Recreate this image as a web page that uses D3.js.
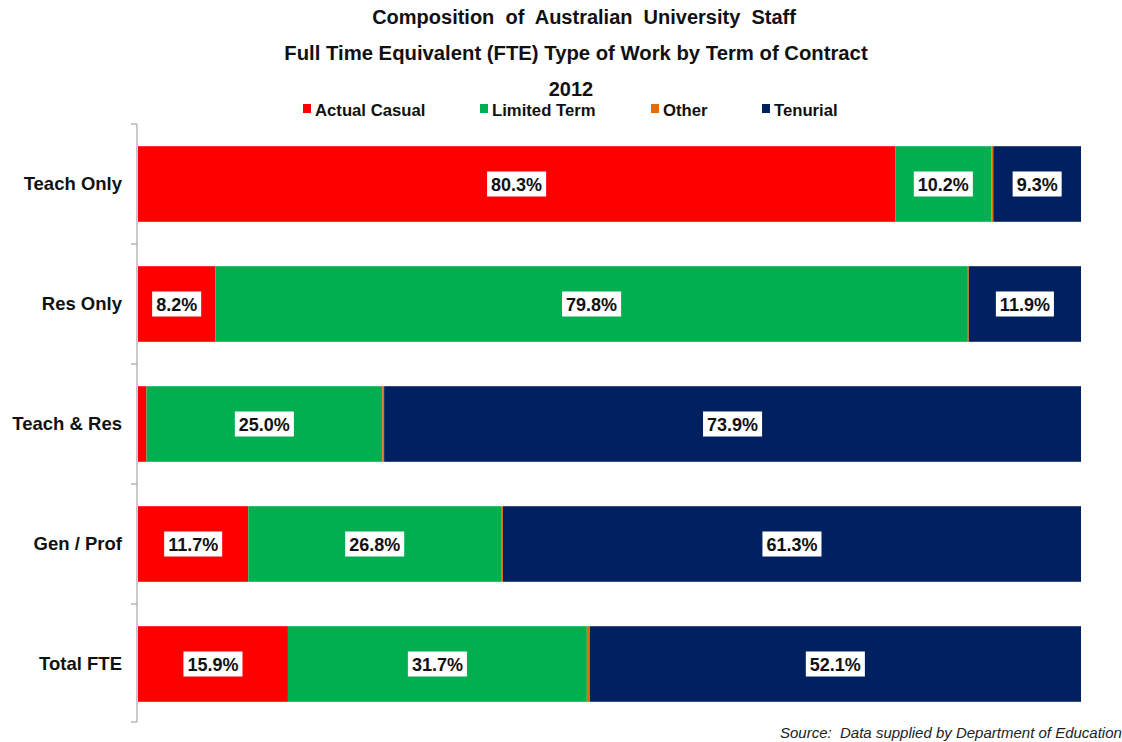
<!DOCTYPE html>
<html>
<head>
<meta charset="utf-8">
<script src="https://cdn.jsdelivr.net/npm/d3@7"></script>
<style>
  html, body { margin: 0; padding: 0; background: #fff; }
  svg { display: block; font-family: "Liberation Sans", Arial, sans-serif; }
  text { white-space: pre; }
</style>
</head>
<body>
<svg id="chart" width="1122" height="742"></svg>
<script>
const categories = ["Teach Only", "Res Only", "Teach & Res", "Gen / Prof", "Total FTE"];
const seriesNames = ["Actual Casual", "Limited Term", "Other", "Tenurial"];
const actualCasual = [80.3, 8.2, 0.9, 11.7, 15.9];
const limitedTerm = [10.2, 79.8, 25.0, 26.8, 31.7];
const other = [0.2, 0.1, 0.2, 0.2, 0.3];
const tenurial = [9.3, 11.9, 73.9, 61.3, 52.1];
const colors = ["#FF0000", "#00B050", "#E46C0A", "#002060"];
const titleLines = ["Composition  of  Australian  University  Staff",
                    "Full Time Equivalent (FTE) Type of Work by Term of Contract",
                    "2012"];
const sourceText = "Source:  Data supplied by Department of Education";

const svg = d3.select("#chart");

const x = d3.scaleLinear().domain([0, 100]).range([138, 1081]);
const y = d3.scaleBand().domain(categories).range([124, 724]).paddingInner(0.37).paddingOuter(0.185);

const seriesData = [actualCasual, limitedTerm, other, tenurial];
const rows = categories.map((c, i) => {
  const o = {cat: c};
  seriesNames.forEach((s, j) => o[s] = seriesData[j][i]);
  return o;
});
const stack = d3.stack().keys(seriesNames)(rows);

// Titles
const titleY = [24, 60, 96];
const titleX = [584, 576, 571];
const titleSize = [20, 20.3, 20];
titleLines.forEach((t, i) => {
  svg.append("text").attr("x", titleX[i]).attr("y", titleY[i])
    .attr("text-anchor", "middle").attr("font-weight", "bold")
    .attr("font-size", titleSize[i]).attr("fill", "#111").text(t);
});

// Legend
const legendX = [303, 480, 651, 762];
const lg = svg.append("g");
seriesNames.forEach((s, i) => {
  lg.append("rect").attr("x", legendX[i]).attr("y", 104).attr("width", 8).attr("height", 9).attr("fill", colors[i]);
  lg.append("text").attr("x", legendX[i] + 12).attr("y", 116)
    .attr("font-size", 16.7).attr("font-weight", "bold").attr("fill", "#111").text(s);
});

// Bars
const g = svg.append("g");
stack.forEach((layer, j) => {
  g.selectAll(null).data(layer).enter().append("rect")
    .attr("x", d => x(d[0]))
    .attr("width", d => Math.max(0, x(d[1]) - x(d[0])))
    .attr("y", d => y(d.data.cat))
    .attr("height", y.bandwidth())
    .attr("fill", colors[j]);
});

// Axis
const axis = d3.axisLeft(y).tickSize(0).tickPadding(15);
const ax = svg.append("g").attr("transform", "translate(137,0)").call(axis);
ax.select(".domain").remove();
svg.append("line").attr("x1", 137).attr("x2", 137).attr("y1", 124).attr("y2", 722)
  .attr("stroke", "#a6a6a6").attr("stroke-width", 1.2);
ax.selectAll("text").attr("font-size", 18.5).attr("font-weight", "bold").attr("fill", "#111")
  .attr("font-family", "Liberation Sans, Arial, sans-serif").attr("dy", "0.35em");
// category boundary ticks
const bounds = categories.map(c => y(c) - y.step() * y.paddingInner() / 2).concat([722]);
bounds[0] = 124;
svg.append("g").selectAll("line").data(bounds).enter().append("line")
  .attr("x1", 131).attr("x2", 137).attr("y1", d => d).attr("y2", d => d)
  .attr("stroke", "#a6a6a6").attr("stroke-width", 1.2);

// Data labels (skip tiny segments)
stack.forEach((layer, j) => {
  layer.forEach(d => {
    const v = d[1] - d[0];
    if (v < 5) return;
    const cx = (x(d[0]) + x(d[1])) / 2;
    const cy = y(d.data.cat) + y.bandwidth() / 2;
    const lbl = v.toFixed(1) + "%";
    const t = g.append("text").attr("x", cx).attr("y", cy + 6.5)
      .attr("text-anchor", "middle").attr("font-size", 18).attr("font-weight", "bold")
      .attr("fill", "#111").text(lbl);
    const bb = t.node().getBBox();
    g.insert("rect", () => t.node())
      .attr("x", bb.x - 4).attr("y", cy - 12.5).attr("width", bb.width + 8).attr("height", 25)
      .attr("fill", "#fff");
  });
});

// Source (the reference runs past the right edge)
svg.append("text").attr("x", 780).attr("y", 738).attr("font-size", 15)
  .attr("font-style", "italic").attr("fill", "#222").text(sourceText);
</script>
</body>
</html>
